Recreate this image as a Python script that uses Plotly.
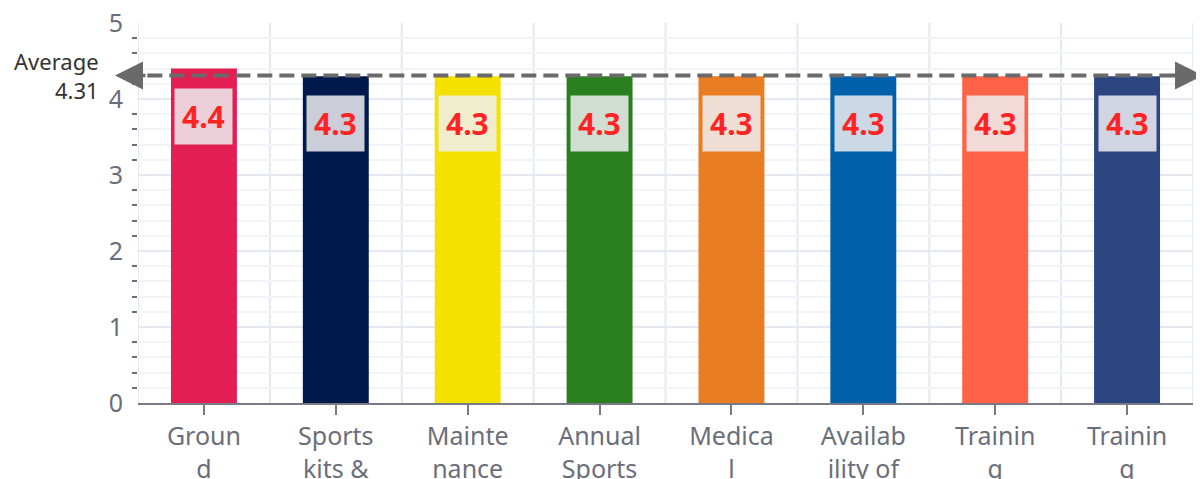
import plotly.graph_objects as go

categories = [
    "Groun<br>d<br>faciliti<br>es",
    "Sports<br>kits &<br>equip<br>ment",
    "Mainte<br>nance<br>of<br>fields",
    "Annual<br>Sports<br>meet",
    "Medica<br>l<br>faciliti<br>es",
    "Availab<br>ility of<br>Coache<br>s",
    "Trainin<br>g<br>session<br>s",
    "Trainin<br>g<br>equipm<br>ent",
]
values = [4.4, 4.3, 4.3, 4.3, 4.3, 4.3, 4.3, 4.3]
colors = ["#E31E52", "#001A4D", "#F5E100", "#2A7F1F", "#E87D24", "#0060AA", "#FF6347", "#2C4580"]
average = round(sum(values) / len(values), 2)

FONT = "Noto Sans, Open Sans, sans-serif"

fig = go.Figure()
fig.add_trace(go.Bar(
    x=list(range(len(categories))),
    y=values,
    marker=dict(color=colors, line=dict(width=0)),
    width=0.5,
    hoverinfo="skip",
))

# value labels in boxes
for i, v in enumerate(values):
    fig.add_annotation(
        x=i, y=v, xref="x", yref="y", yanchor="top", yshift=-19,
        text=f"<b>{v:.1f}</b>", showarrow=False,
        font=dict(size=30, color="#FF2424", family=FONT),
        bgcolor="rgba(238,238,242,0.85)", borderpad=7,
    )

# vertical gridlines at category boundaries
for i in range(len(categories) + 1):
    fig.add_shape(type="line", xref="x", yref="paper", x0=i - 0.5, x1=i - 0.5,
                  y0=0, y1=1, line=dict(color="#E3E8F2", width=2), layer="below")

# average line
fig.add_shape(type="line", xref="paper", yref="y", x0=-0.012, x1=1.0,
              y0=average, y1=average, line=dict(color="#6A6A6A", width=4, dash="15px,7px"),
              layer="above")
fig.add_annotation(x=-0.0218, y=average, xref="paper", yref="y", text="",
                   showarrow=True, arrowhead=2, arrowsize=1.6, arrowwidth=3.5,
                   arrowcolor="#6A6A6A", ax=32, ay=0)
fig.add_annotation(x=1.0104, y=average, xref="paper", yref="y", text="",
                   showarrow=True, arrowhead=2, arrowsize=1.6, arrowwidth=3.5,
                   arrowcolor="#6A6A6A", ax=-32, ay=0)
fig.add_annotation(x=-0.035, y=average, xref="paper", yref="y", xanchor="right",
                   yanchor="middle", align="right", showarrow=False,
                   text=f"Average<br>{average}",
                   font=dict(size=22, color="#333333", family=FONT))

fig.update_layout(
    width=1196, height=471,
    margin=dict(l=130, r=11, t=15, b=76),
    paper_bgcolor="white", plot_bgcolor="white",
    showlegend=False,
    font=dict(family=FONT, color="#6B6E7A"),
    xaxis=dict(
        tickmode="array", tickvals=list(range(len(categories))), ticktext=categories,
        range=[-0.5, len(categories) - 0.5],
        showgrid=False, zeroline=False, automargin=False,
        showline=True, linecolor="#7A7A85", linewidth=2,
        ticks="outside", ticklen=10, tickwidth=2, tickcolor="#7A7A85",
        tickfont=dict(size=25, color="#6B6E7A", family=FONT),
        tickangle=0, ticklabeloverflow="allow",
    ),
    yaxis=dict(
        range=[0, 5], dtick=1, tick0=0, automargin=False,
        showgrid=True, gridcolor="#E3E8F2", gridwidth=2,
        zeroline=False, showline=False,
        ticks="", ticklabelstandoff=14, ticklabeloverflow="allow",
        tickfont=dict(size=25, color="#6B6E7A", family=FONT),
        minor=dict(dtick=0.2, tick0=0, ticks="outside", ticklen=5, tickwidth=2,
                   tickcolor="#6B6E7A", showgrid=True, gridcolor="#F1F4F9", gridwidth=2),
    ),
)

fig.write_html("out.html")
